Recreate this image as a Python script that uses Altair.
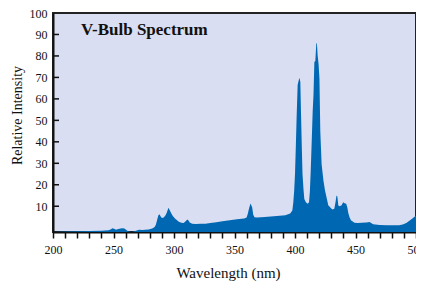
import altair as alt
import pandas as pd

wavelength = [200, 210, 220, 230, 240, 246, 248, 249, 251, 252, 254, 257, 259, 262, 265, 268, 271, 274, 276, 279,
              282, 284, 285, 286, 287, 288, 289, 290, 291.5, 293, 294, 295.4, 296.4, 297.5, 299, 301, 304, 306, 308,
              310, 311, 312, 313, 315, 318, 322, 326, 330, 335, 340, 346, 352, 358, 360, 361, 362, 363.2, 364.6,
              365.5, 366.5, 368.7, 375, 385, 392, 396, 397.8, 398.6, 399.3, 400, 400.7, 401.4, 402.2, 402.8, 403.6,
              404.4, 405, 405.6, 406.2, 407, 407.7, 409, 410.5, 411.6, 412.3, 413, 413.8, 414.6, 415.3, 416, 416.8,
              417.6, 418.1, 418.7, 419.5, 420.2, 420.9, 422, 423.5, 424.8, 427.5, 430.8, 432.5, 433.5, 434.3, 435,
              435.8, 437, 438.5, 439.8, 441, 442.3, 443.2, 444.2, 445.3, 446.4, 448, 449.1, 452, 455, 459, 461.6,
              464.6, 470, 476, 482, 486, 489, 492, 494.8, 497, 499.5, 500]
intensity = [-2, -1.8, -1.7, -1.5, -1.4, -1.2, -0.7, -0.3, -0.6, -1.0, -0.6, -0.2, -0.4, -1.6, -2, -1.5, -1.0, -1.1,
             -0.9, -0.8, -0.4, 0.3, 1.4, 3.5, 5.7, 6.3, 5.2, 4.5, 4.8, 5.8, 7.0, 9.3, 8.3, 7.0, 5.5, 4.2, 2.8, 2.3,
             2.2, 3.2, 3.8, 3.4, 2.4, 1.8, 1.7, 1.8, 1.9, 2.2, 2.5, 3.0, 3.5, 3.9, 4.3, 4.8, 6.5, 9.0, 11.3, 9.5,
             6.0, 4.9, 4.8, 5.0, 5.4, 5.8, 6.6, 8.0, 11.9, 17, 25, 38, 52.6, 66.5, 68, 69.8, 68, 52.6, 38, 25, 18,
             13.4, 11.8, 11.1, 11.9, 17, 26.5, 40, 54, 62, 77.2, 77.6, 85.7, 86, 80.3, 76, 69.5, 45, 29.6, 22, 17.3,
             10.5, 8.5, 8.8, 12, 15, 14.5, 10.3, 10, 10.5, 11.9, 11.4, 11.1, 9.5, 6.5, 4.5, 3.4, 2.8, 2.3, 2.2, 2.3,
             2.4, 2.6, 1.6, 1.3, 1.1, 1.1, 1.2, 1.5, 2.2, 3.4, 4.3, 5.5, 5.7]

x_ticks = list(range(200, 501, 10))
y_ticks = [10, 20, 30, 40, 50, 60, 70, 80, 90, 100]
y_inner_ticks = [10, 20, 30, 40, 50, 60, 70, 80, 90]
chart_title = "V-Bulb Spectrum"

FONT = "Liberation Serif"

df = pd.DataFrame({"wl": wavelength, "val": intensity})

xscale = alt.Scale(domain=[200, 500], nice=False)
yscale = alt.Scale(domain=[-2, 100], nice=False, zero=False)

y_axis = alt.Axis(title="Relative Intensity", values=y_ticks, tickSize=0,
                  labelOverlap=False, labelBound=False, labelFlush=False,
                  labelPadding=6, domainColor="#111", domainWidth=2, grid=False,
                  labelFont=FONT, labelFontSize=12, labelColor="#111",
                  titleFont=FONT, titleFontSize=14, titleFontWeight="normal",
                  titleColor="#111", titlePadding=5, titleY=102)

area = alt.Chart(df).mark_area(color="#0068b2", interpolate="linear", opacity=1).encode(
    x=alt.X("wl:Q", scale=xscale,
            axis=alt.Axis(title="Wavelength (nm)", values=x_ticks,
                          labelExpr="datum.value % 50 == 0 ? datum.label : ''",
                          labelOverlap=False, labelBound=False, labelFlush=False,
                          tickSize=6, tickWidth=1.5, tickColor="#111", labelPadding=6,
                          domainColor="#111", domainWidth=2, grid=False,
                          labelFont=FONT, labelFontSize=12, labelColor="#111",
                          titleFont=FONT, titleFontSize=15, titleFontWeight="normal",
                          titleColor="#111", titlePadding=10, titleX=175)),
    y=alt.Y("val:Q", scale=yscale, axis=y_axis, title="Relative Intensity"),
    y2=alt.datum(-2),
)

tick_df = pd.DataFrame({"yt": y_inner_ticks})
yticks = alt.Chart(tick_df).mark_rule(color="#111", strokeWidth=1.5).encode(
    y=alt.Y("yt:Q", scale=yscale, axis=y_axis, title="Relative Intensity"),
    x=alt.value(0),
    x2=alt.value(6),
)

title = alt.Chart(pd.DataFrame({"t": [chart_title]})).mark_text(
    font=FONT, fontSize=17, fontWeight="bold", align="left", baseline="middle", color="#111"
).encode(text="t:N", x=alt.value(28), y=alt.value(17))

chart = alt.layer(area, yticks, title).properties(
    width=363, height=219,
    autosize=alt.AutoSizeParams(type="none"),
    padding={"left": 45, "top": 5, "right": 0, "bottom": 52},
).configure_view(
    fill="#d9def2", stroke="#222", strokeWidth=2
)

chart.save("out.html", embed_options={"renderer": "svg", "actions": False})
